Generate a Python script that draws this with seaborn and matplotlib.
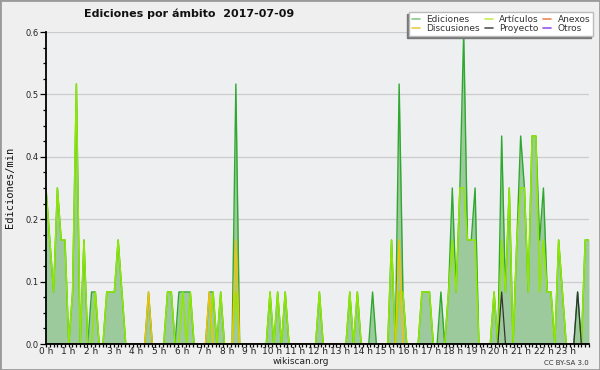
import numpy as np
import pandas as pd
import matplotlib
matplotlib.use('Agg')
import matplotlib.pyplot as plt
from matplotlib.ticker import MultipleLocator, FixedLocator, FuncFormatter
from matplotlib.lines import Line2D
from matplotlib.patches import Rectangle
import seaborn as sns

# ediciones por minuto, tramos de 10 min (144 puntos en el dia)
ediciones = [
    0.3, 0.2, 0.1, 0.3, 0.2, 0.2, 0.0, 0.1, 0.5, 0.0, 0.2, 0.0,
    0.1, 0.1, 0.0, 0.0, 0.1, 0.1, 0.1, 0.2, 0.1, 0.0, 0.0, 0.0,
    0.0, 0.0, 0.0, 0.1, 0.0, 0.0, 0.0, 0.0, 0.1, 0.1, 0.0, 0.1,
    0.1, 0.1, 0.1, 0.0, 0.0, 0.0, 0.0, 0.1, 0.1, 0.0, 0.1, 0.0,
    0.0, 0.0, 0.5, 0.0, 0.0, 0.0, 0.0, 0.0, 0.0, 0.0, 0.0, 0.1,
    0.0, 0.1, 0.0, 0.1, 0.0, 0.0, 0.0, 0.0, 0.0, 0.0, 0.0, 0.0,
    0.1, 0.0, 0.0, 0.0, 0.0, 0.0, 0.0, 0.0, 0.1, 0.0, 0.1, 0.0,
    0.0, 0.0, 0.1, 0.0, 0.0, 0.0, 0.0, 0.2, 0.0, 0.5, 0.1, 0.0,
    0.0, 0.0, 0.0, 0.1, 0.1, 0.1, 0.0, 0.0, 0.1, 0.0, 0.1, 0.3,
    0.1, 0.3, 0.6, 0.2, 0.2, 0.3, 0.0, 0.0, 0.0, 0.0, 0.1, 0.0,
    0.4, 0.1, 0.3, 0.0, 0.2, 0.4, 0.3, 0.1, 0.4, 0.4, 0.2, 0.3,
    0.1, 0.1, 0.0, 0.2, 0.1, 0.0, 0.0, 0.0, 0.1, 0.0, 0.2, 0.2,
]
articulos = [
    0.3, 0.2, 0.1, 0.3, 0.2, 0.2, 0.0, 0.1, 0.5, 0.0, 0.2, 0.0,
    0.0, 0.1, 0.0, 0.0, 0.1, 0.1, 0.1, 0.2, 0.1, 0.0, 0.0, 0.0,
    0.0, 0.0, 0.0, 0.0, 0.0, 0.0, 0.0, 0.0, 0.1, 0.1, 0.0, 0.0,
    0.1, 0.0, 0.1, 0.0, 0.0, 0.0, 0.0, 0.0, 0.1, 0.0, 0.1, 0.0,
    0.0, 0.0, 0.1, 0.0, 0.0, 0.0, 0.0, 0.0, 0.0, 0.0, 0.0, 0.1,
    0.0, 0.1, 0.0, 0.1, 0.0, 0.0, 0.0, 0.0, 0.0, 0.0, 0.0, 0.0,
    0.1, 0.0, 0.0, 0.0, 0.0, 0.0, 0.0, 0.0, 0.1, 0.0, 0.1, 0.0,
    0.0, 0.0, 0.0, 0.0, 0.0, 0.0, 0.0, 0.2, 0.0, 0.1, 0.1, 0.0,
    0.0, 0.0, 0.0, 0.1, 0.1, 0.1, 0.0, 0.0, 0.0, 0.0, 0.1, 0.2,
    0.1, 0.3, 0.3, 0.2, 0.2, 0.2, 0.0, 0.0, 0.0, 0.0, 0.1, 0.0,
    0.2, 0.1, 0.3, 0.0, 0.2, 0.3, 0.3, 0.1, 0.4, 0.4, 0.1, 0.2,
    0.1, 0.1, 0.0, 0.2, 0.1, 0.0, 0.0, 0.0, 0.0, 0.0, 0.2, 0.2,
]
discusiones = [
    0.0, 0.0, 0.0, 0.0, 0.0, 0.0, 0.0, 0.0, 0.0, 0.0, 0.0, 0.0,
    0.0, 0.0, 0.0, 0.0, 0.0, 0.0, 0.0, 0.0, 0.0, 0.0, 0.0, 0.0,
    0.0, 0.0, 0.0, 0.1, 0.0, 0.0, 0.0, 0.0, 0.0, 0.0, 0.0, 0.0,
    0.0, 0.0, 0.0, 0.0, 0.0, 0.0, 0.0, 0.1, 0.0, 0.0, 0.0, 0.0,
    0.0, 0.0, 0.2, 0.0, 0.0, 0.0, 0.0, 0.0, 0.0, 0.0, 0.0, 0.0,
    0.0, 0.0, 0.0, 0.0, 0.0, 0.0, 0.0, 0.0, 0.0, 0.0, 0.0, 0.0,
    0.0, 0.0, 0.0, 0.0, 0.0, 0.0, 0.0, 0.0, 0.0, 0.0, 0.0, 0.0,
    0.0, 0.0, 0.0, 0.0, 0.0, 0.0, 0.0, 0.0, 0.0, 0.2, 0.0, 0.0,
    0.0, 0.0, 0.0, 0.0, 0.0, 0.0, 0.0, 0.0, 0.0, 0.0, 0.0, 0.0,
    0.0, 0.0, 0.0, 0.0, 0.0, 0.0, 0.0, 0.0, 0.0, 0.0, 0.0, 0.0,
    0.0, 0.0, 0.0, 0.0, 0.0, 0.0, 0.0, 0.0, 0.0, 0.0, 0.0, 0.0,
    0.0, 0.0, 0.0, 0.0, 0.0, 0.0, 0.0, 0.0, 0.0, 0.0, 0.0, 0.0,
]
proyecto = [
    0.0, 0.0, 0.0, 0.0, 0.0, 0.0, 0.0, 0.0, 0.0, 0.0, 0.0, 0.0,
    0.0, 0.0, 0.0, 0.0, 0.0, 0.0, 0.0, 0.0, 0.0, 0.0, 0.0, 0.0,
    0.0, 0.0, 0.0, 0.0, 0.0, 0.0, 0.0, 0.0, 0.0, 0.0, 0.0, 0.0,
    0.0, 0.0, 0.0, 0.0, 0.0, 0.0, 0.0, 0.0, 0.0, 0.0, 0.0, 0.0,
    0.0, 0.0, 0.0, 0.0, 0.0, 0.0, 0.0, 0.0, 0.0, 0.0, 0.0, 0.0,
    0.0, 0.0, 0.0, 0.0, 0.0, 0.0, 0.0, 0.0, 0.0, 0.0, 0.0, 0.0,
    0.0, 0.0, 0.0, 0.0, 0.0, 0.0, 0.0, 0.0, 0.0, 0.0, 0.0, 0.0,
    0.0, 0.0, 0.0, 0.0, 0.0, 0.0, 0.0, 0.0, 0.0, 0.0, 0.0, 0.0,
    0.0, 0.0, 0.0, 0.0, 0.0, 0.0, 0.0, 0.0, 0.0, 0.0, 0.0, 0.0,
    0.0, 0.0, 0.0, 0.0, 0.0, 0.0, 0.0, 0.0, 0.0, 0.0, 0.0, 0.0,
    0.1, 0.0, 0.0, 0.0, 0.0, 0.0, 0.0, 0.0, 0.0, 0.0, 0.0, 0.0,
    0.0, 0.0, 0.0, 0.0, 0.0, 0.0, 0.0, 0.0, 0.1, 0.0, 0.0, 0.0,
]
y_ticks = [0.0, 0.12, 0.24, 0.36, 0.48, 0.6]
legend_labels = ['Ediciones', 'Discusiones', 'Artículos', 'Proyecto', 'Anexos', 'Otros']
legend_colors = ['#88cc88', '#f0cc44', '#c8ee55', '#555555', '#ee8855', '#9955ee']

df = pd.DataFrame({
    'hora': np.linspace(0, 24, len(ediciones)),
    'Ediciones': ediciones,
    'Artículos': articulos,
    'Discusiones': discusiones,
    'Proyecto': proyecto,
})

sns.set_style('white')
plt.rcParams['font.family'] = ['DejaVu Sans']

fig = plt.figure(figsize=(6, 3.7), dpi=100, facecolor='#efefef')
ax = fig.add_axes([46 / 600, 26 / 370, 543 / 600, 312 / 370])
ax.set_facecolor('#eeeff1')

# area total + lineas
ax.fill_between(df['hora'], df['Ediciones'], color='#9dca9d', lw=0, zorder=2)
sns.lineplot(data=df, x='hora', y='Ediciones', color='#2fa82f', lw=1.0, ax=ax, zorder=3)
sns.lineplot(data=df, x='hora', y='Artículos', color='#8fe800', lw=1.1, ax=ax, zorder=4)
sns.lineplot(data=df, x='hora', y='Discusiones', color='#f2c200', lw=1.0, ax=ax, zorder=5)
sns.lineplot(data=df, x='hora', y='Proyecto', color='#333333', lw=0.9, ax=ax, zorder=6)

ax.set_xlim(0, 24)
ax.set_ylim(0, 0.6)
ax.set_xlabel('')
ax.set_ylabel('')

ax.yaxis.set_major_locator(FixedLocator(y_ticks))
ax.yaxis.set_major_formatter(FuncFormatter(lambda v, p: f'{v:.1f}'))
ax.yaxis.set_minor_locator(MultipleLocator(0.03))
ax.xaxis.set_major_locator(MultipleLocator(1))
ax.xaxis.set_major_formatter(FuncFormatter(lambda v, p: f'{int(round(v))} h' if v < 23.5 else ''))
ax.xaxis.set_minor_locator(MultipleLocator(1 / 6))
ax.tick_params(which='both', direction='out', color='black', width=0.9,
               left=True, bottom=True, labelcolor='#222222')
ax.tick_params(axis='y', which='major', length=4, labelsize=6, pad=1)
ax.tick_params(axis='y', which='minor', length=2.5)
ax.tick_params(axis='x', which='major', length=2.5, labelsize=6.5, pad=0)
ax.tick_params(axis='x', which='minor', length=2.5)
ax.grid(axis='y', which='major', color='#cccccc', lw=0.9, zorder=1)
ax.set_axisbelow(True)

for side in ['top', 'right']:
    ax.spines[side].set_visible(False)
for side in ['left', 'bottom']:
    ax.spines[side].set_color('black')
    ax.spines[side].set_linewidth(1.3)
    ax.spines[side].set_zorder(10)

fig.text(189 / 600, 1 - 14 / 370, 'Ediciones por ámbito  2017-07-09',
         ha='center', va='center', fontsize=8, fontweight='bold', color='#111111')
fig.text(10 / 600, 1 - 187 / 370, 'Ediciones/min', rotation=90, ha='center', va='center',
         fontsize=7.5, family='DejaVu Sans Mono', color='#111111')
fig.text(301 / 600, 1 - 362 / 370, 'wikiscan.org', ha='center', va='center',
         fontsize=6.5, color='#222222')
fig.text(589 / 600, 1 - 363 / 370, 'CC BY-SA 3.0', ha='right', va='center',
         fontsize=5, color='#333333')

handles = [Line2D([], [], color=c, lw=1.2) for c in legend_colors]
fig.legend(handles, legend_labels, ncol=3, loc='upper right',
           bbox_to_anchor=(593 / 600, 1 - 12 / 370), borderaxespad=0,
           fontsize=6.5, frameon=True,
           fancybox=False, edgecolor='#bbbbbb', facecolor='white', framealpha=1,
           handlelength=0.9, handletextpad=0.7, columnspacing=0.5, labelspacing=0.05,
           borderpad=0.3, labelcolor='#333333',
           shadow={'ox': -1.5, 'oy': -1.5, 'color': '#777777', 'alpha': 1})

fig.patches.append(Rectangle((0, 0), 1, 1, transform=fig.transFigure, fill=False,
                             edgecolor='#9a9a9a', lw=2))

fig.savefig('out.png', dpi=100, facecolor=fig.get_facecolor())
